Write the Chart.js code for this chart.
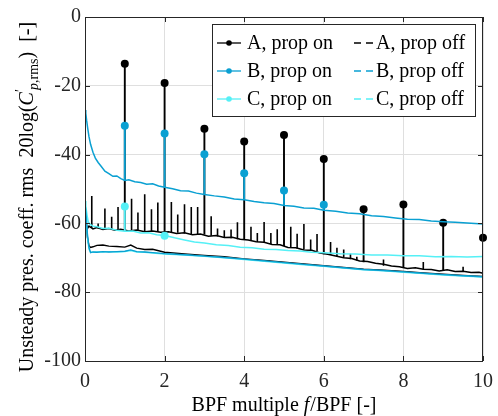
<!DOCTYPE html>
<html>
<head>
<meta charset="utf-8">
<script src="https://cdn.jsdelivr.net/npm/chart.js@4"></script>
<style>
html,body{margin:0;padding:0;background:#fff}
#wrap{width:498px;height:416px}
</style>
</head>
<body>
<div id="wrap"><canvas id="c" width="498" height="416"></canvas></div>
<script>
/* harmonic peaks (markers) */
const harmX  = [1,2,3,4,5,6,7,8,9,10];
const peakA  = [-13.6,-19.2,-32.5,-36.2,-34.3,-41.3,-55.9,-54.5,-59.8,-64.2];
const baseA  = [-62.0,-62.5,-63.2,-64.7,-66.6,-69.0,-71.3,-73.0,-73.6,-74.5];
const harmXB = [1,2,3,4,5,6];
const peakB  = [-31.6,-33.9,-39.9,-45.4,-50.4,-54.6];
const baseB  = [-47.5,-49.6,-51.6,-53.1,-54.8,-56.2];
const harmXC = [1,2];
const peakC  = [-55.1,-63.6];
const baseC  = [-62.3,-63.5];

/* A, prop on: sub-harmonic spikes */
const spikeAX   = [0.17,0.33,0.5,0.67,0.83, 1.17,1.33,1.5,1.67,1.83, 2.17,2.33,2.5,2.67,2.83,
                   3.17,3.33,3.5,3.67,3.83, 4.17,4.33,4.5,4.67,4.83, 5.17,5.33,5.5,5.67,5.83,
                   6.17,6.33,6.5,6.67,6.83, 7.5,8.5,9.5];
const spikeATop = [-52,-60,-55.7,-58.1,-55.2, -52.8,-56.8,-51.5,-55.9,-53.9, -53.8,-57.4,-54.4,-55.2,-55.2,
                   -57.9,-61.5,-62,-61.8,-59.7, -61,-62.8,-59.6,-62.8,-61.7, -61,-63,-60.2,-64.7,-63.1,
                   -65.4,-67.1,-67.6,-68.8,-69.7, -70.5,-71.2,-72.6];
const spikeABase= [-61.3,-61.5,-61.6,-61.7,-61.9, -62,-62.1,-62.3,-62.4,-62.5, -62.6,-62.7,-62.9,-63.1,-63.3,
                   -63.6,-63.8,-64,-64.3,-64.6, -65.1,-65.4,-65.7,-66,-66.3, -67,-67.3,-67.6,-67.9,-68.2,
                   -69.2,-69.6,-70,-70.4,-70.8, -72.3,-73.3,-74];

/* broadband spectra */
const specAX = [0,0.03,0.06,0.1,0.2,0.3,0.45,0.6,0.75,0.9,1.1,1.3,1.5,1.7,1.9,2.1,2.3,2.5,2.7,2.9,3.1,3.3,3.5,3.7,3.9,
                4.1,4.3,4.5,4.7,4.9,5.1,5.3,5.5,5.7,5.9,6.1,6.3,6.5,6.7,6.9,7.1,7.3,7.5,7.7,7.9,8.1,8.3,8.5,8.7,8.9,
                9.1,9.3,9.5,9.7,9.9,10];
const specA  = [-57,-60,-61.5,-60.8,-61.6,-61.2,-61.8,-61.5,-62,-61.7,-62.2,-61.9,-62.4,-62.2,-62.6,-62.4,-62.9,-62.7,-63.3,-63.1,
                -63.7,-63.5,-64.1,-64.0,-64.6,-64.8,-65.3,-65.5,-66.1,-66.2,-67,-67.1,-67.7,-67.8,-68.6,-69,-69.5,-70,-70.2,-70.9,
                -71.1,-71.6,-71.9,-72.4,-72.6,-73.1,-72.9,-73.3,-73.4,-73.8,-73.5,-74,-73.9,-74.3,-74.2,-74.5];
const specBX = [0,0.02,0.04,0.07,0.1,0.14,0.2,0.26,0.33,0.4,0.5,0.6,0.7,0.8,0.9,1.0,1.1,1.25,1.4,1.55,1.7,1.85,2.0,2.2,2.4,
                2.6,2.8,3.0,3.25,3.5,3.75,4.0,4.25,4.5,4.75,5.0,5.25,5.5,5.75,6.0,6.3,6.6,6.9,7.2,7.5,7.8,8.1,8.4,8.7,9.0,
                9.3,9.6,10];
const specB  = [-27,-28,-30,-32.5,-34.8,-37,-39.3,-41,-42.3,-43.3,-44.8,-45.5,-46.3,-46.2,-47,-47.5,-47.3,-47.9,-48.1,-48.6,
                -48.5,-49.1,-49.5,-49.9,-50.5,-50.6,-51.2,-51.6,-52.0,-52.3,-52.9,-53.1,-53.6,-54.0,-54.2,-54.8,-55.0,-55.5,-55.6,-56.2,
                -56.5,-57.0,-57.2,-57.8,-58.0,-58.4,-58.8,-58.9,-59.3,-59.5,-59.7,-59.9,-60.2];
const specCX = [0,0.02,0.05,0.08,0.12,0.2,0.3,0.45,0.6,0.8,1.0,1.2,1.4,1.6,1.8,2.0,2.25,2.5,2.75,3.0,3.3,3.6,3.9,4.2,4.5,
                4.8,5.1,5.4,5.7,6.0,6.4,6.8,7.2,7.6,8.0,8.4,8.8,9.2,9.6,10];
const specC  = [-53.5,-55,-57.5,-59.5,-60.2,-60.8,-61,-61.5,-61.4,-62,-62.3,-62.2,-62.8,-62.7,-63.3,-63.5,-64.2,-64.8,-65.4,-65.7,
                -66.2,-66.4,-66.9,-67.1,-67.5,-67.6,-67.9,-68.0,-68.4,-68.5,-68.8,-68.9,-69.2,-69.2,-69.4,-69.4,-69.7,-69.6,-69.8,-69.6];

/* prop off */
const offX  = [0,0.03,0.06,0.1,0.14,0.2,0.3,0.45,0.6,0.8,1.0,1.15,1.3,1.5,1.7,2.0,2.5,3.0,3.5,4.0,4.5,5.0,5.5,6.0,6.5,7.0,
               7.5,8.0,8.5,9.0,9.5,10];
const offA  = [-57,-60,-64,-66.5,-67,-66.8,-66.4,-66.3,-66.6,-66.7,-66.9,-66.3,-67.2,-67.6,-67.5,-68.4,-68.9,-69.3,-69.7,-70.3,
               -70.8,-71.3,-71.8,-72.3,-72.8,-73.3,-73.6,-74.0,-74.4,-74.8,-75.1,-75.4];
const offB  = [-54,-58,-63,-67,-68.5,-68.3,-68.4,-68.2,-68.3,-68.2,-68.1,-67.7,-68.2,-68.3,-68.5,-68.8,-69.1,-69.5,-69.9,-70.4,
               -70.9,-71.4,-71.9,-72.4,-72.9,-73.4,-73.7,-74.1,-74.5,-74.9,-75.2,-75.5];
const offC  = [-55,-59,-64,-67.5,-68.4,-68.4,-68.3,-68.3,-68.2,-68.3,-68.2,-67.9,-68.3,-68.4,-68.6,-68.9,-69.2,-69.6,-70.0,-70.5,
               -71.0,-71.5,-72.0,-72.5,-73.0,-73.5,-73.8,-74.2,-74.6,-75.0,-75.3,-75.6];

const xTicks = [0,2,4,6,8,10];
const yTicks = [-100,-80,-60,-40,-20,0];
const legendOn  = ['A, prop on','B, prop on','C, prop on'];
const legendOff = ['A, prop off','B, prop off','C, prop off'];

const CA='#000000', CB='#0aa0d2', CC='#55f0f6';
const GRID='#dfdfdf', AXC='#262626';
const SERIF="'Liberation Serif','Times New Roman',serif";

const pts=(xs,ys)=>xs.map((x,i)=>({x:x,y:ys[i]}));
function stems(xs,bases,tops){
  const out=[];
  xs.forEach((x,i)=>{out.push({x:x,y:bases[i]},{x:x,y:tops[i]},{x:x,y:null});});
  return out;
}
const lineDs=(data,color,w,order)=>({data:data,borderColor:color,borderWidth:w,showLine:true,pointRadius:0,
  fill:false,tension:0,spanGaps:false,order:order});
const dotDs=(data,color,order)=>({data:data,backgroundColor:color,borderColor:color,borderWidth:0,showLine:false,
  pointRadius:4,clip:false,order:order});

const decor={
  id:'decor',
  afterDraw(chart){
    const ctx=chart.ctx, a=chart.chartArea, sx=chart.scales.x, sy=chart.scales.y;
    ctx.save();
    /* inward ticks + box */
    ctx.strokeStyle=AXC; ctx.lineWidth=1;
    ctx.beginPath();
    xTicks.forEach(v=>{const p=Math.round(sx.getPixelForValue(v))+0.5;
      ctx.moveTo(p,a.bottom);ctx.lineTo(p,a.bottom-5);ctx.moveTo(p,a.top);ctx.lineTo(p,a.top+5);});
    yTicks.forEach(v=>{const p=Math.round(sy.getPixelForValue(v))+0.5;
      ctx.moveTo(a.left,p);ctx.lineTo(a.left+5,p);ctx.moveTo(a.right,p);ctx.lineTo(a.right-5,p);});
    ctx.stroke();
    ctx.strokeRect(a.left+0.5,a.top+0.5,a.right-a.left-1,a.bottom-a.top);

    /* legend */
    const lx=212, ly=24, lw=263, lh=92;
    ctx.fillStyle='#fff'; ctx.fillRect(lx,ly,lw,lh);
    ctx.strokeStyle=AXC; ctx.strokeRect(lx+0.5,ly+0.5,lw,lh);
    ctx.font='20px '+SERIF; ctx.textBaseline='middle'; ctx.textAlign='left';
    const cols=[CA,CB,CC];
    for(let i=0;i<3;i++){
      const ry=43+i*28;
      ctx.strokeStyle=cols[i]; ctx.lineWidth=1.3; ctx.setLineDash([]);
      ctx.beginPath(); ctx.moveTo(217,ry); ctx.lineTo(241,ry); ctx.stroke();
      ctx.fillStyle=cols[i]; ctx.beginPath(); ctx.arc(229,ry,2.8,0,Math.PI*2); ctx.fill();
      ctx.setLineDash([7,5]);
      ctx.beginPath(); ctx.moveTo(354,ry); ctx.lineTo(374,ry); ctx.stroke();
      ctx.setLineDash([]);
      ctx.fillStyle='#000';
      ctx.fillText(legendOn[i],247,ry+1);
      ctx.fillText(legendOff[i],376,ry+1);
    }

    /* axis titles with italic parts */
    const drawRich=(parts,cx,cy,rot)=>{
      ctx.save(); ctx.translate(cx,cy); ctx.rotate(rot);
      ctx.textBaseline='alphabetic'; ctx.textAlign='left'; ctx.fillStyle='#000';
      let w=0; parts.forEach(p=>{ctx.font=p.f; w+=ctx.measureText(p.t).width+(p.dx||0);});
      let x=-w/2;
      parts.forEach(p=>{ctx.font=p.f; ctx.fillText(p.t,x,p.dy||0); x+=ctx.measureText(p.t).width+(p.dx||0);});
      ctx.restore();
    };
    const N='20px '+SERIF, I='italic 20px '+SERIF, S='14px '+SERIF, SI='italic 14px '+SERIF;
    drawRich([{t:'BPF multiple ',f:N},{t:'f',f:I,dx:1},{t:'/BPF [-]',f:N}],284,411,0);
    drawRich([{t:'Unsteady pres. coeff. rms  20log(',f:N},{t:'C',f:I},{t:'\u2032',f:S,dy:-8,dx:-1},
              {t:'p',f:SI,dy:5},{t:',rms',f:S,dy:5},{t:')',f:N,dx:5},{t:' [-]',f:N}],33,197,-Math.PI/2);
    ctx.restore();
  }
};

new Chart(document.getElementById('c'),{
  type:'scatter',
  data:{datasets:[
    lineDs(pts(specAX,specA),CA,1.5,20),
    lineDs(stems(spikeAX,spikeABase,spikeATop),CA,1.6,19),
    lineDs(stems(harmX,baseA,peakA),CA,1.9,18),
    dotDs(pts(harmX,peakA),CA,17),
    lineDs(pts(specBX,specB),CB,1.5,16),
    lineDs(stems(harmXB,baseB,peakB),CB,1.9,15),
    dotDs(pts(harmXB,peakB),CB,14),
    lineDs(pts(specCX,specC),CC,1.5,13),
    lineDs(stems(harmXC,baseC,peakC),CC,1.9,12),
    dotDs(pts(harmXC,peakC),CC,11),
    lineDs(pts(offX,offA),CA,1.4,10),
    lineDs(pts(offX,offC),CC,1.4,9),
    lineDs(pts(offX,offB),CB,1.4,8)
  ]},
  options:{
    responsive:false,animation:false,devicePixelRatio:1,
    layout:{padding:{top:17,right:15,left:0,bottom:0}},
    plugins:{legend:{display:false},tooltip:{enabled:false}},
    scales:{
      x:{type:'linear',min:0,max:10,offset:false,
         afterBuildTicks(s){s.ticks=xTicks.map(v=>({value:v}));},
         ticks:{font:{family:SERIF,size:20},color:AXC,padding:9,maxRotation:0},
         grid:{color:GRID,drawTicks:false},border:{display:false},
         afterFit(s){s.height=55;s.paddingLeft=0;s.paddingRight=0;}},
      y:{type:'linear',min:-100,max:0,
         afterBuildTicks(s){s.ticks=yTicks.map(v=>({value:v}));},
         ticks:{font:{family:SERIF,size:20},color:AXC,padding:4},
         grid:{color:GRID,drawTicks:false},border:{display:false},
         afterFit(s){s.width=85;s.paddingTop=0;s.paddingBottom=0;}}
    }
  },
  plugins:[decor]
});
</script>
</body>
</html>
